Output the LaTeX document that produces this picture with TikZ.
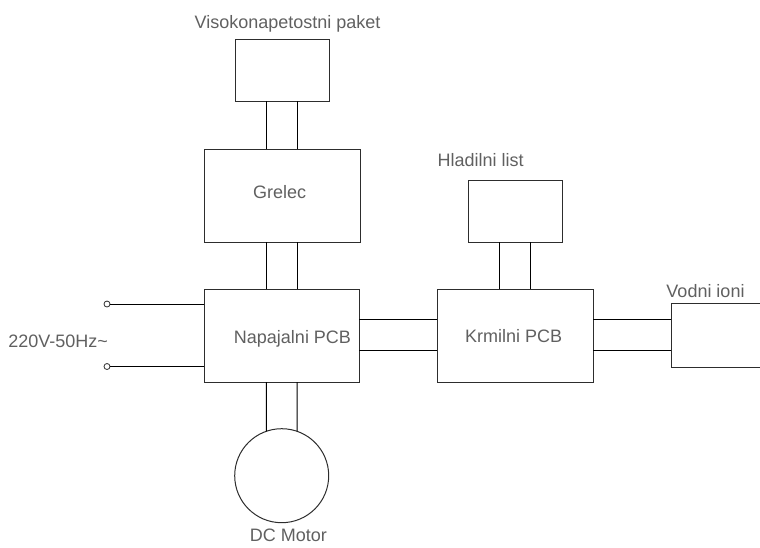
\documentclass[tikz,border=0pt]{standalone}
\usepackage{fontspec}
\setmainfont{Liberation Sans}
\definecolor{txt}{RGB}{96,96,96}
\definecolor{edge}{RGB}{45,45,45}
\begin{document}
\begin{tikzpicture}[x=1pt,y=-1pt,
  blk/.style={draw=edge, line width=1pt, inner sep=0pt, outer sep=0pt},
  term/.style={draw=edge, circle, line width=0.8pt, minimum size=6pt, inner sep=0pt, outer sep=0pt, fill=white},
  wire/.style={draw=black, line width=1pt},
  lbl/.style={text=txt, font=\fontsize{18}{21}\selectfont, anchor=base, inner sep=0pt}]
\useasboundingbox (0,0) rectangle (760,547);
% blocks
\node[blk, minimum width=94pt, minimum height=62pt] (hv) at (282,70) {};
\node[blk, minimum width=156pt, minimum height=93pt] (gre) at (282,195.5) {};
\node[blk, minimum width=155pt, minimum height=93pt] (nap) at (281.5,335.5) {};
\node[blk, minimum width=156pt, minimum height=93pt] (krm) at (515,335.5) {};
\node[blk, minimum width=94pt, minimum height=62pt] (hla) at (515,211) {};
\node[blk, minimum width=100pt, minimum height=64pt] (vod) at (721,335) {};
\node[blk, circle, minimum size=94pt] (mot) at (281.7,475.7) {};
\node[term] (t1) at (107,304) {};
\node[term] (t2) at (107,366.5) {};
% connectors
\draw[wire] ([xshift=-15.5pt]hv.south) -- ([xshift=-15.5pt]hv.south |- gre.north);
\draw[wire] ([xshift=15.5pt]hv.south) -- ([xshift=15.5pt]hv.south |- gre.north);
\draw[wire] ([xshift=-15.5pt]gre.south) -- ([xshift=-15.5pt]gre.south |- nap.north);
\draw[wire] ([xshift=15.5pt]gre.south) -- ([xshift=15.5pt]gre.south |- nap.north);
\draw[wire] ([xshift=-15.2pt]nap.south) -- (mot.109);
\draw[wire] ([xshift=15.5pt]nap.south) -- (mot.71);
\draw[wire] ([xshift=-15.5pt]hla.south) -- ([xshift=-15.5pt]hla.south |- krm.north);
\draw[wire] ([xshift=15.5pt]hla.south) -- ([xshift=15.5pt]hla.south |- krm.north);
\draw[wire] ([yshift=16pt]nap.east) -- ([yshift=16pt]nap.east -| krm.west);
\draw[wire] ([yshift=-15pt]nap.east) -- ([yshift=-15pt]nap.east -| krm.west);
\draw[wire] ([yshift=16pt]krm.east) -- ([yshift=16pt]krm.east -| vod.west);
\draw[wire] ([yshift=-15pt]krm.east) -- ([yshift=-15pt]krm.east -| vod.west);
\draw[wire] (t1) -- (t1 -| nap.west);
\draw[wire] (t2) -- (t2 -| nap.west);
% labels
\node[lbl] (lhv) at (287.5,28) {Visokonapetostni paket};
\node[lbl] (lgre) at (279.7,198.3) {Grelec};
\node[lbl] (lnap) at (292.5,343.3) {Napajalni PCB};
\node[lbl] (lkrm) at (513.7,342) {Krmilni PCB};
\node[lbl] (lhla) at (480.7,166.7) {Hladilni list};
\node[lbl] (lvod) at (705.5,297) {Vodni ioni};
\node[lbl] (lpow) at (58.2,347.3) {220V-50Hz\char`\~};
\node[lbl] (lmot) at (288.3,541.7) {DC Motor};
\end{tikzpicture}
\end{document}
